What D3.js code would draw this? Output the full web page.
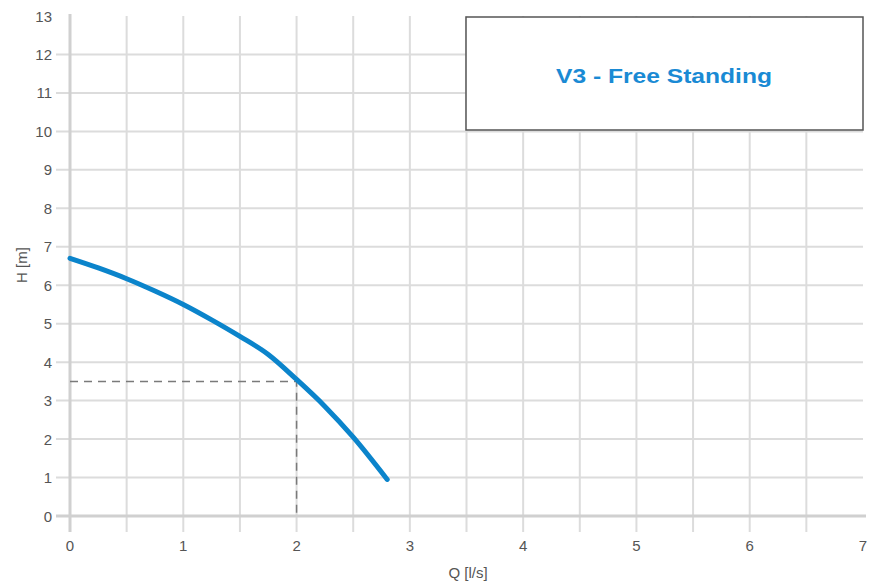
<!DOCTYPE html>
<html><head><meta charset="utf-8">
<script src="https://cdn.jsdelivr.net/npm/d3@7"></script>
<style>body{margin:0;background:#fff}svg{display:block}</style>
</head><body>
<script>
const curveQ = [0, 0.25, 0.5, 0.75, 1.0, 1.25, 1.5, 1.75, 2.0, 2.25, 2.5, 2.8];
const curveH = [6.7, 6.45, 6.17, 5.85, 5.5, 5.1, 4.67, 4.2, 3.55, 2.85, 2.05, 0.95];
const dutyQ = [2];
const dutyH = [3.5];
const xTicks = [0, 1, 2, 3, 4, 5, 6, 7];
const yTicks = [0, 1, 2, 3, 4, 5, 6, 7, 8, 9, 10, 11, 12, 13];
const xGrid = [0.5, 1, 1.5, 2, 2.5, 3, 3.5, 4, 4.5, 5, 5.5, 6, 6.5];
const yGrid = [1, 2, 3, 4, 5, 6, 7, 8, 9, 10, 11, 12];
const legendLabel = "V3 - Free Standing";
const xTitle = "Q [l/s]";
const yTitle = "H [m]";

const W = 878, H = 583;
const svg = d3.select("body").append("svg").attr("width", W).attr("height", H);
const x = d3.scaleLinear().domain([0, 7]).range([70, 863]);
const y = d3.scaleLinear().domain([0, 13]).range([516, 16]);
const gridCol = "#dcdcdc", labelCol = "#555";
const font = "Liberation Sans, Arial, sans-serif";

svg.append("g").selectAll("line").data(xGrid).join("line")
  .attr("x1", d => x(d)).attr("x2", d => x(d))
  .attr("y1", y(13)).attr("y2", 532)
  .attr("stroke", gridCol).attr("stroke-width", 2);
svg.append("g").selectAll("line").data(yGrid).join("line")
  .attr("x1", 56).attr("x2", x(7))
  .attr("y1", d => y(d)).attr("y2", d => y(d))
  .attr("stroke", gridCol).attr("stroke-width", 2);
svg.append("line").attr("x1", x(0)).attr("x2", x(0)).attr("y1", 14).attr("y2", 532)
  .attr("stroke", "#d0d0d0").attr("stroke-width", 3);
svg.append("line").attr("x1", 56).attr("x2", 866).attr("y1", y(0)).attr("y2", y(0))
  .attr("stroke", "#d0d0d0").attr("stroke-width", 3);

svg.append("g").selectAll("text").data(xTicks).join("text")
  .attr("x", d => x(d)).attr("y", 551).attr("text-anchor", "middle")
  .attr("font-family", font).attr("font-size", 15).attr("fill", labelCol)
  .text(d => d);
svg.append("g").selectAll("text").data(yTicks).join("text")
  .attr("x", 52).attr("y", d => y(d) + 5.5).attr("text-anchor", "end")
  .attr("font-family", font).attr("font-size", 15).attr("fill", labelCol)
  .text(d => d);

svg.append("text").attr("x", 468).attr("y", 578).attr("text-anchor", "middle")
  .attr("font-family", font).attr("font-size", 15).attr("fill", labelCol).text(xTitle);
svg.append("text").attr("transform", `translate(27,265) rotate(-90)`).attr("text-anchor", "middle")
  .attr("font-family", font).attr("font-size", 15).attr("fill", labelCol).text(yTitle);

svg.append("path")
  .attr("d", `M${x(0)},${y(dutyH[0])}H${x(dutyQ[0])}V${y(0)}`)
  .attr("fill", "none").attr("stroke", "#7a7a7a").attr("stroke-width", 1.5)
  .attr("stroke-dasharray", "8,6");

const pts = curveQ.map((q, i) => [q, curveH[i]]);
svg.append("path").datum(pts)
  .attr("d", d3.line().x(d => x(d[0])).y(d => y(d[1])).curve(d3.curveMonotoneX))
  .attr("fill", "none").attr("stroke", "#0b84cb").attr("stroke-width", 5)
  .attr("stroke-linecap", "round");

svg.append("rect").attr("x", 466).attr("y", 17).attr("width", 397).attr("height", 113)
  .attr("fill", "#fff").attr("stroke", "#555").attr("stroke-width", 1.5);
svg.append("text").attr("x", 664).attr("y", 83).attr("text-anchor", "middle")
  .attr("font-family", font).attr("font-weight", "bold").attr("font-size", 21)
  .attr("textLength", 216).attr("lengthAdjust", "spacingAndGlyphs")
  .attr("fill", "#1a8ad4").text(legendLabel);
</script>
</body></html>
